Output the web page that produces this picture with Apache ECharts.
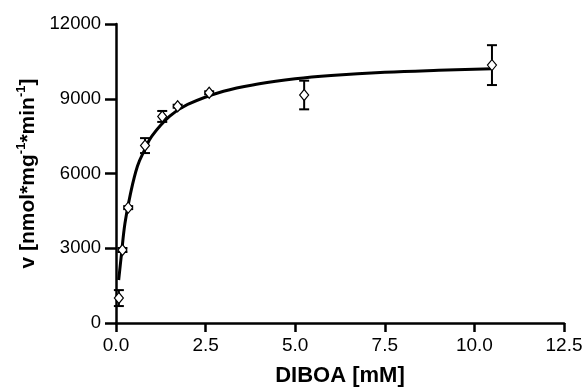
<!DOCTYPE html>
<html>
<head>
<meta charset="utf-8">
<script src="https://cdn.jsdelivr.net/npm/echarts@6/dist/echarts.min.js"></script>
<style>
  html, body { margin: 0; padding: 0; background: #fff; }
  #chart { width: 587px; height: 387px; }
</style>
</head>
<body>
<div id="chart"></div>
<script>
// measured points (mean ± error)
const conc = [0.08, 0.18, 0.34, 0.81, 1.29, 1.72, 2.6, 5.25, 10.49];
const rate = [1000, 2930, 4630, 7120, 8290, 8700, 9240, 9150, 10350];
const err = [320, 80, 60, 300, 220, 60, 60, 575, 800];

// fitted curve
const fitX = [0.075, 0.15, 0.25, 0.4, 0.6, 0.8, 1.0, 1.5, 2.0, 3.0, 4.0, 5.0, 6.0, 7.5, 9.0, 10.5];
const fitY = [1725, 2730, 4000, 5160, 6300, 6950, 7500, 8300, 8770, 9300, 9600, 9800, 9930, 10060, 10140, 10200];

const xTicks = [0, 2.5, 5, 7.5, 10, 12.5];
const yTicks = [0, 3000, 6000, 9000, 12000];

const chart = echarts.init(document.getElementById("chart"));

const font = "Liberation Sans, Arial, sans-serif";

chart.setOption({
  animation: false,
  grid: { left: 116, right: 23, top: 24, bottom: 64, outerBoundsMode: "none" },
  xAxis: {
    type: "value",
    min: xTicks[0],
    max: xTicks[xTicks.length - 1],
    interval: 2.5,
    name: "DIBOA [mM]",
    nameLocation: "middle",
    nameGap: 42,
    nameTextStyle: { fontFamily: font, fontWeight: "bold", fontSize: 22, color: "#000" },
    axisLine: { lineStyle: { color: "#000", width: 2.5 } },
    axisTick: { show: true, length: 9, lineStyle: { color: "#000", width: 2.5 } },
    axisLabel: {
      margin: 13,
      fontFamily: font, fontSize: 19, color: "#000",
      formatter: (v) => v.toFixed(1)
    },
    splitLine: { show: false }
  },
  yAxis: {
    type: "value",
    min: yTicks[0],
    max: yTicks[yTicks.length - 1],
    interval: 3000,
    name: "{b|v [nmol*mg}{s|-1}{b|*min}{s|-1}{b|]}",
    nameLocation: "middle",
    nameRotate: 90,
    nameGap: 74,
    nameTextStyle: {
      rich: {
        b: { fontFamily: font, fontWeight: "bold", fontSize: 21, color: "#000", lineHeight: 24, verticalAlign: "bottom" },
        s: { fontFamily: font, fontWeight: "bold", fontSize: 13, color: "#000", lineHeight: 24, verticalAlign: "top" }
      }
    },
    axisLine: { show: true, lineStyle: { color: "#000", width: 2.5 } },
    axisTick: { show: true, length: 11, lineStyle: { color: "#000", width: 2.5 } },
    axisLabel: {
      margin: 15, fontFamily: font, fontSize: 18.5, color: "#000",
      formatter: (v) => String(v)
    },
    splitLine: { show: false }
  },
  series: [
    {
      type: "line",
      data: fitX.map((x, i) => [x, fitY[i]]),
      smooth: 0.4,
      showSymbol: false,
      lineStyle: { color: "#000", width: 3 },
      z: 2
    },
    {
      type: "custom",
      data: conc.map((x, i) => [x, rate[i] - err[i], rate[i] + err[i]]),
      renderItem: (params, api) => {
        const lo = api.coord([api.value(0), api.value(1)]);
        const hi = api.coord([api.value(0), api.value(2)]);
        const cap = 5;
        const style = { stroke: "#000", lineWidth: 2 };
        return {
          type: "group",
          children: [
            { type: "line", shape: { x1: lo[0], y1: lo[1], x2: hi[0], y2: hi[1] }, style },
            { type: "line", shape: { x1: lo[0] - cap, y1: lo[1], x2: lo[0] + cap, y2: lo[1] }, style },
            { type: "line", shape: { x1: hi[0] - cap, y1: hi[1], x2: hi[0] + cap, y2: hi[1] }, style }
          ]
        };
      },
      z: 3
    },
    {
      type: "scatter",
      data: conc.map((x, i) => [x, rate[i]]),
      symbol: "diamond",
      symbolSize: [9, 11],
      itemStyle: { color: "#fff", opacity: 1, borderColor: "#000", borderWidth: 1.2 },
      z: 4
    }
  ]
});
</script>
</body>
</html>
